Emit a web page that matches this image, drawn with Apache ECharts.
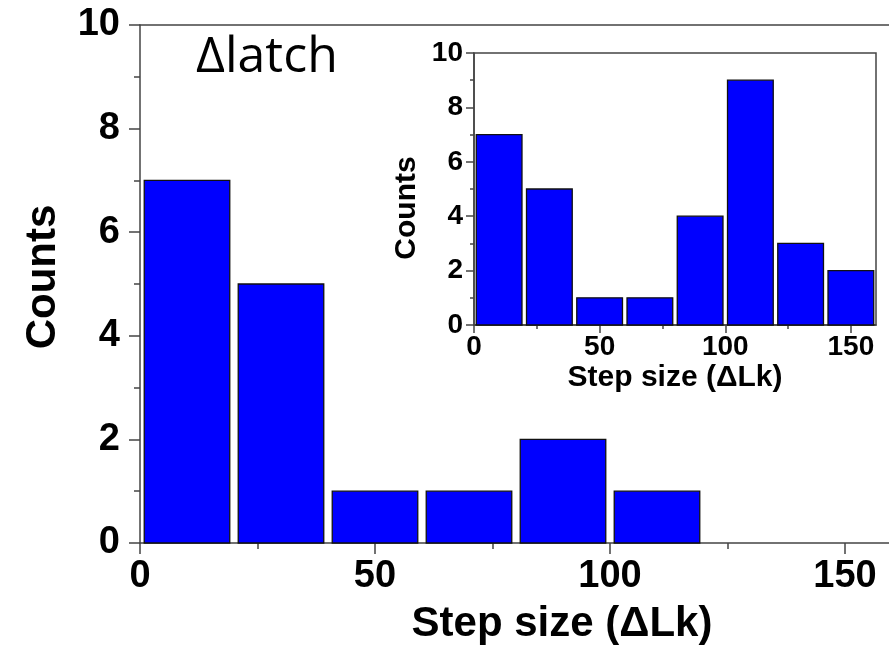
<!DOCTYPE html>
<html>
<head>
<meta charset="utf-8">
<script src="https://cdn.jsdelivr.net/npm/echarts@6/dist/echarts.min.js"></script>
<style>
  html, body { margin: 0; padding: 0; background: #fff; overflow: hidden; }
  #chart { width: 889px; height: 649px; }
</style>
</head>
<body>
<div id="chart"></div>
<script>
// Histogram bins (ΔLk step size), 20 units wide
const binStarts = [0, 20, 40, 60, 80, 100, 120, 140];
const binWidth = 20;

// Counts for Δlatch (main panel) and for all steps (inset)
const latchCounts = [7, 5, 1, 1, 2, 1];
const insetCounts = [7, 5, 1, 1, 4, 9, 3, 2];

// Axis ticks
const xTicks = [0, 50, 100, 150];
const xMinorTicks = [25, 75, 125];
const yTicks = [0, 2, 4, 6, 8, 10];

const xTitle = 'Step size (\u0394Lk)';
const yTitle = 'Counts';
const panelLabel = '\u0394latch';

const xMax = 160;

const FONT = '"Liberation Sans", Arial, sans-serif';
const AXIS_COLOR = '#444444';

function toRows(counts) {
  return counts.map((c, i) => [binStarts[i], binStarts[i] + binWidth, c]);
}

// Draw each bin as a rectangle between its edges, slightly inset
function renderBin(params, api) {
  const x0 = api.value(0), x1 = api.value(1), v = api.value(2);
  const pTop = api.coord([x0, v]);
  const pBot = api.coord([x1, 0]);
  const w = pBot[0] - pTop[0];
  const inset = w * 0.045;
  return {
    type: 'rect',
    shape: { x: pTop[0] + inset, y: pTop[1], width: w - 2 * inset, height: pBot[1] - pTop[1] },
    style: { fill: '#0000ff', stroke: '#111', lineWidth: 1.3 }
  };
}

const tickLine = { color: AXIS_COLOR, width: 1.5 };

function xAxisCfg(gridIndex, o) {
  return {
    type: 'value', gridIndex, position: 'bottom', min: 0, max: xMax, interval: 50,
    name: xTitle, nameLocation: 'middle', nameGap: o.nameGap,
    nameTextStyle: { fontFamily: FONT, fontWeight: 'bold', fontSize: o.nameSize, color: '#000',
                     padding: o.namePad, lineHeight: o.nameSize },
    axisLine: { show: true, lineStyle: tickLine },
    axisTick: { show: true, inside: false, length: o.tick, lineStyle: tickLine, customValues: xTicks },
    minorTick: { show: false },
    axisLabel: { fontFamily: FONT, fontWeight: 'bold', fontSize: o.labelSize, color: '#000',
                 margin: o.labelMargin, lineHeight: o.labelSize, customValues: xTicks },
    splitLine: { show: false }
  };
}

// Short ticks halfway between the labelled ones
function xMinorAxisCfg(gridIndex, len) {
  return {
    type: 'value', gridIndex, position: 'bottom', min: 0, max: xMax, interval: 50,
    axisLine: { show: false },
    axisTick: { show: true, inside: false, length: len, lineStyle: tickLine, customValues: xMinorTicks },
    axisLabel: { show: false }, splitLine: { show: false }
  };
}

function yAxisCfg(gridIndex, o) {
  return {
    type: 'value', gridIndex, min: 0, max: 10, interval: 2,
    name: yTitle, nameLocation: 'middle', nameGap: o.nameGap, nameRotate: 90,
    nameTextStyle: { fontFamily: FONT, fontWeight: 'bold', fontSize: o.nameSize, color: '#000',
                     padding: o.namePad },
    axisLine: { show: true, lineStyle: tickLine },
    axisTick: { show: true, inside: false, length: o.tick, lineStyle: tickLine },
    minorTick: { show: true, splitNumber: 2, length: o.minor, lineStyle: tickLine },
    axisLabel: { fontFamily: FONT, fontWeight: 'bold', fontSize: o.labelSize, color: '#000',
                 margin: o.labelMargin,
                 formatter: v => yTicks.indexOf(v) >= 0 ? String(v) : '' },
    splitLine: { show: false }, minorSplitLine: { show: false }
  };
}

// Plain frame line along the top of the main panel
const mainTopFrame = {
  type: 'value', gridIndex: 0, position: 'top', min: 0, max: xMax,
  axisLine: { show: true, lineStyle: tickLine },
  axisTick: { show: false }, axisLabel: { show: false }, splitLine: { show: false }
};

const chart = echarts.init(document.getElementById('chart'), null, { renderer: 'canvas' });

chart.setOption({
  backgroundColor: '#ffffff',
  animation: false,
  grid: [
    // the main panel runs slightly past the right edge of the canvas
    { left: 140, top: 25, right: -3, bottom: 106, outerBoundsMode: 'none' },
    { left: 474, top: 53, right: 13, bottom: 324, show: true, outerBoundsMode: 'none',
      borderColor: AXIS_COLOR, borderWidth: 1.5, backgroundColor: '#ffffff' }
  ],
  xAxis: [
    xAxisCfg(0, { nameGap: 60, nameSize: 42, namePad: [0, 0, 0, 92], tick: 11,
                  labelSize: 38, labelMargin: 15 }),
    xAxisCfg(1, { nameGap: 38, nameSize: 30, namePad: [0, 0, 0, 0], tick: 8,
                  labelSize: 28, labelMargin: 8 }),
    mainTopFrame,
    xMinorAxisCfg(0, 6),
    xMinorAxisCfg(1, 4)
  ],
  yAxis: [
    yAxisCfg(0, { nameGap: 76, nameSize: 42, namePad: [0, 0, 0, 14], tick: 11, minor: 6,
                  labelSize: 38, labelMargin: 20 }),
    yAxisCfg(1, { nameGap: 52, nameSize: 30, namePad: [0, 38, 0, 0], tick: 8, minor: 4,
                  labelSize: 28, labelMargin: 11 })
  ],
  graphic: [
    { type: 'text', left: 196, top: 33,
      style: { text: panelLabel, font: '50px "Open Sans", "Noto Sans", sans-serif', fill: '#000' } }
  ],
  series: [
    { type: 'custom', xAxisIndex: 0, yAxisIndex: 0, renderItem: renderBin,
      encode: { x: [0, 1], y: 2 }, data: toRows(latchCounts), z: 3 },
    { type: 'custom', xAxisIndex: 1, yAxisIndex: 1, renderItem: renderBin,
      encode: { x: [0, 1], y: 2 }, data: toRows(insetCounts), z: 3 }
  ]
});
</script>
</body>
</html>
